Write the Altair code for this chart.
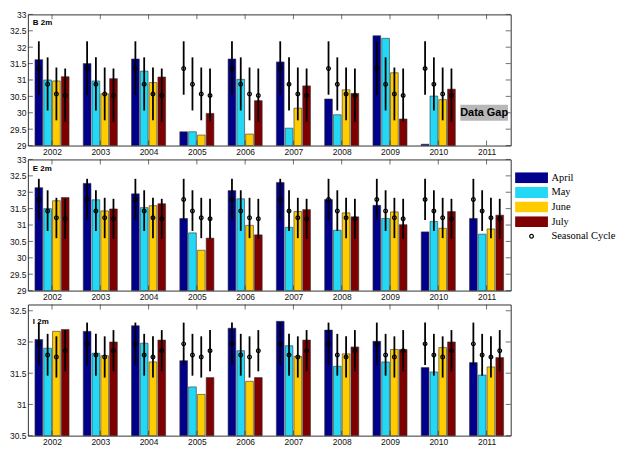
import altair as alt
import pandas as pd

# ---------------- data ----------------
years = [2002, 2003, 2004, 2005, 2006, 2007, 2008, 2009, 2010, 2011]
months = ["April", "May", "June", "July"]
month_colors = ["#00008B", "#22D8F4", "#FFCC00", "#7F0000"]
sc_label = "Seasonal Cycle"

# B 2m (no data in 2011)
B_april = [31.62, 31.50, 31.64, 29.42, 31.64, 31.55, 30.42, 32.35, 29.04, None]
B_may = [31.00, 30.97, 31.27, 29.42, 31.02, 29.53, 29.94, 32.27, 30.51, None]
B_june = [30.97, 30.58, 30.92, 29.32, 29.35, 30.14, 30.70, 31.22, 30.40, None]
B_july = [31.10, 31.04, 31.09, 29.98, 30.37, 30.82, 30.59, 29.81, 30.72, None]
B_sc_mean = [31.35, 30.87, 30.57, 30.53]
B_sc_lo = [30.55, 30.07, 29.77, 29.73]
B_sc_hi = [32.18, 31.69, 31.38, 31.35]
B_sc_years = [2002, 2003, 2004, 2005, 2006, 2007, 2008, 2009, 2010]

# E 2m
E_april = [32.14, 32.27, 31.95, 31.20, 32.05, 32.30, 31.78, 31.60, 30.79, 31.20]
E_may = [31.50, 31.77, 31.53, 30.76, 31.80, 30.93, 30.84, 31.20, 31.11, 30.72]
E_june = [31.74, 31.43, 31.59, 30.23, 30.99, 31.41, 31.37, 31.40, 30.90, 30.88]
E_july = [31.84, 31.49, 31.65, 30.60, 30.70, 31.47, 31.25, 31.01, 31.41, 31.30]
E_sc_mean = [31.78, 31.43, 31.22, 31.19]
E_sc_lo = [31.15, 30.82, 30.60, 30.58]
E_sc_hi = [32.41, 32.06, 31.83, 31.80]
E_sc_years = years

# I 2m
I_april = [32.04, 32.17, 32.26, 31.70, 32.22, 32.33, 32.19, 32.01, 31.59, 31.67]
I_may = [31.90, 31.82, 31.98, 31.28, 31.86, 31.94, 31.61, 31.68, 31.52, 31.47]
I_june = [32.17, 31.78, 31.68, 31.16, 31.37, 31.77, 31.81, 31.88, 31.91, 31.60]
I_july = [32.20, 32.00, 32.03, 31.43, 31.43, 32.03, 31.92, 31.88, 32.00, 31.75]
I_sc_mean = [31.97, 31.79, 31.76, 31.86]
I_sc_lo = [31.63, 31.46, 31.43, 31.53]
I_sc_hi = [32.31, 32.13, 32.09, 32.19]
I_sc_years = years

panel_names = ["B 2m", "E 2m", "I 2m"]
panel_values = [[B_april, B_may, B_june, B_july],
                [E_april, E_may, E_june, E_july],
                [I_april, I_may, I_june, I_july]]
panel_sc = [(B_sc_mean, B_sc_lo, B_sc_hi, B_sc_years),
            (E_sc_mean, E_sc_lo, E_sc_hi, E_sc_years),
            (I_sc_mean, I_sc_lo, I_sc_hi, I_sc_years)]
panel_domains = [[29, 33], [29, 33], [30.5, 32.6]]
panel_yticks = [[29, 29.5, 30, 30.5, 31, 31.5, 32, 32.5, 33],
                [29, 29.5, 30, 30.5, 31, 31.5, 32, 32.5, 33],
                [30.5, 31, 31.5, 32, 32.5]]
panel_label_dy = [9, 10, 18]

gap_text = ["Data Gap"]
gap_x = [2010.95]
gap_y = [30.0]

# ---------------- layout ----------------
W, H = 486, 132
SPACING = 14
PITCH, BARW = 0.182, 0.16
RECT = "M-1,-0.3333H1V0.3333H-1Z"
# ring (outer clockwise, inner counter-clockwise -> hollow centre)
RING = ("M0.15,0A0.15,0.15,0,1,1,-0.15,0A0.15,0.15,0,1,1,0.15,0Z"
        "M0.075,0A0.075,0.075,0,1,0,-0.075,0A0.075,0.075,0,1,0,0.075,0Z")

x_scale = alt.Scale(domain=[2001.5, 2011.5], nice=False, zero=False)
color_scale = alt.Scale(domain=months + [sc_label], range=month_colors + ["black"])
shape_scale = alt.Scale(domain=months + [sc_label], range=[RECT] * 4 + [RING])
x_axis = alt.Axis(values=years, format="d", title=None, labelPadding=2)


def make_legend():
    return alt.Legend(orient="none", legendX=W + 4, legendY=H + SPACING + 13, title=None,
                      symbolSize=1089, clipHeight=11,
                      symbolStrokeColor="black", symbolStrokeWidth=0.9,
                      labelFont="Liberation Serif", labelFontSize=10.5, labelColor="black",
                      labelOffset=3, rowPadding=3.7, symbolOpacity=1, padding=0)


def panel(i):
    dom = panel_domains[i]
    y_scale = alt.Scale(domain=dom, nice=False, zero=False)
    y_axis = alt.Axis(values=panel_yticks[i], format=".3~g", title=None, labelPadding=2)
    rows = []
    for mi, m in enumerate(months):
        for yi, yr in enumerate(years):
            v = panel_values[i][mi][yi]
            if v is None:
                continue
            xc = yr + (mi - 1.5) * PITCH
            rows.append(dict(month=m, value=v, x0=xc - BARW / 2, x1=xc + BARW / 2))
    bar_df = pd.DataFrame(rows)

    mean, lo, hi, sc_years = panel_sc[i]
    srows = []
    for yr in sc_years:
        for mi in range(4):
            srows.append(dict(series=sc_label, xc=yr + (mi - 1.5) * PITCH,
                              mean=mean[mi], lo=lo[mi], hi=hi[mi]))
    sc_df = pd.DataFrame(srows)

    bars = alt.Chart(bar_df).mark_bar(stroke="#333", strokeWidth=0.6).encode(
        x=alt.X("x0:Q", scale=x_scale, axis=x_axis),
        x2="x1:Q",
        y=alt.Y("value:Q", scale=y_scale, axis=y_axis),
        y2=alt.datum(dom[0]),
        color=alt.Color("month:N", scale=color_scale, legend=make_legend()),
    )
    rules = alt.Chart(sc_df).mark_rule(color="black", strokeWidth=1.8).encode(
        x=alt.X("xc:Q", scale=x_scale, axis=x_axis),
        y=alt.Y("lo:Q", scale=y_scale, axis=y_axis),
        y2="hi:Q",
    )
    pts = alt.Chart(sc_df).mark_point(filled=True, fill="black", size=1089, opacity=1).encode(
        x=alt.X("xc:Q", scale=x_scale, axis=x_axis),
        y=alt.Y("mean:Q", scale=y_scale, axis=y_axis),
        shape=alt.Shape("series:N", scale=shape_scale, legend=make_legend()),
    )
    ytick_df = pd.DataFrame({"t": panel_yticks[i]})
    xtick_df = pd.DataFrame({"yr": years})
    tk = dict(thickness=1, color="#333", size=5)
    lt = alt.Chart(ytick_df).mark_tick(orient="horizontal", **tk).encode(
        x=alt.value(2.5), y=alt.Y("t:Q", scale=y_scale, axis=y_axis))
    rt = alt.Chart(ytick_df).mark_tick(orient="horizontal", **tk).encode(
        x=alt.value(W - 2.5), y=alt.Y("t:Q", scale=y_scale, axis=y_axis))
    tt = alt.Chart(xtick_df).mark_tick(orient="vertical", **tk).encode(
        x=alt.X("yr:Q", scale=x_scale, axis=x_axis), y=alt.value(2.5))
    bt = alt.Chart(xtick_df).mark_tick(orient="vertical", **tk).encode(
        x=alt.X("yr:Q", scale=x_scale, axis=x_axis), y=alt.value(H - 2.5))
    name = alt.Chart(pd.DataFrame({"name": [panel_names[i]]})).mark_text(
        align="left", baseline="middle", fontWeight="bold", fontSize=8,
        font="Liberation Sans", color="black").encode(
        x=alt.value(5), y=alt.value(panel_label_dy[i]), text="name:N")
    layers = [bars, rules, pts, lt, rt, tt, bt, name]
    if i == 0:
        gdf = pd.DataFrame({"t": gap_text, "gx": gap_x, "gy": gap_y})
        grect = alt.Chart(gdf).mark_rect(width=48, height=16, color="#B8B8B8").encode(
            x=alt.X("gx:Q", scale=x_scale, axis=x_axis),
            y=alt.Y("gy:Q", scale=y_scale, axis=y_axis))
        gtext = alt.Chart(gdf).mark_text(fontWeight="bold", fontSize=11,
                                         font="Liberation Sans", color="black").encode(
            x=alt.X("gx:Q", scale=x_scale, axis=x_axis),
            y=alt.Y("gy:Q", scale=y_scale, axis=y_axis), text="t:N")
        layers += [grect, gtext]
    return alt.layer(*layers).properties(width=W, height=H)


chart = alt.vconcat(panel(0), panel(1), panel(2), spacing=SPACING, bounds="flush").resolve_scale(
    x="independent", y="independent").resolve_axis(x="independent", y="independent").properties(
    padding={"left": 0, "top": 0, "right": 0, "bottom": 0}
).configure_view(stroke="#333", strokeWidth=1).configure_axis(
    labelFont="Liberation Sans", labelFontSize=8.5, labelColor="#111",
    grid=False, domain=False, ticks=False)

chart.save("out.html", embed_options={"renderer": "svg", "actions": False})
